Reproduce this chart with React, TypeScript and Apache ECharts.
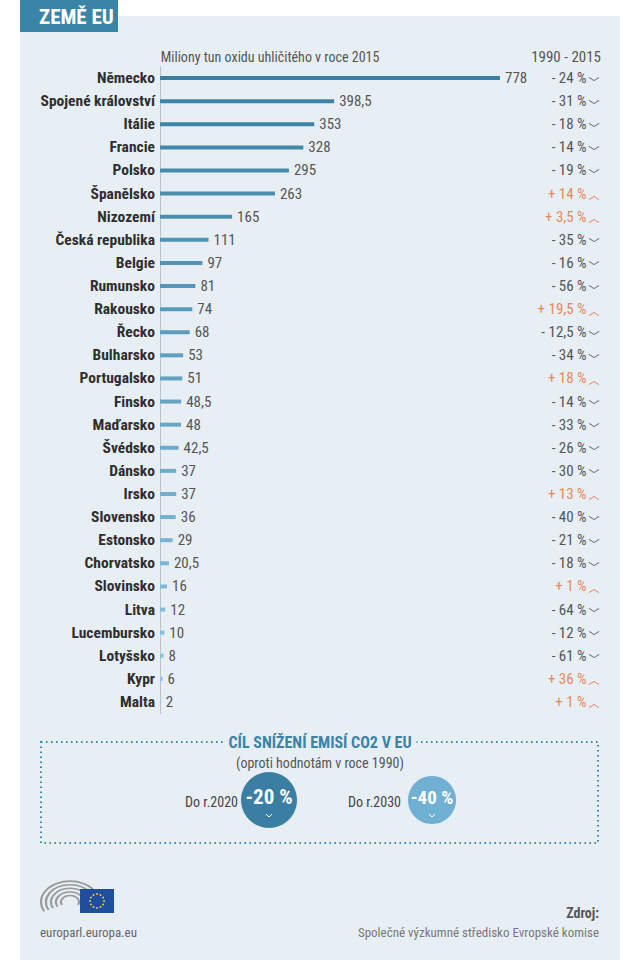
import React, { useEffect, useRef } from "react";
import * as echarts from "echarts";

const countries = [
  "Německo", "Spojené království", "Itálie", "Francie", "Polsko", "Španělsko", "Nizozemí",
  "Česká republika", "Belgie", "Rumunsko", "Rakousko", "Řecko", "Bulharsko", "Portugalsko",
  "Finsko", "Maďarsko", "Švédsko", "Dánsko", "Irsko", "Slovensko", "Estonsko", "Chorvatsko",
  "Slovinsko", "Litva", "Lucembursko", "Lotyšsko", "Kypr", "Malta",
];
const emissions2015 = [
  778, 398.5, 353, 328, 295, 263, 165, 111, 97, 81, 74, 68, 53, 51, 48.5, 48, 42.5, 37, 37, 36,
  29, 20.5, 16, 12, 10, 8, 6, 2,
];
const change1990to2015 = [
  -24, -31, -18, -14, -19, 14, 3.5, -35, -16, -56, 19.5, -12.5, -34, 18, -14, -33, -26, -30, 13,
  -40, -21, -18, 1, -64, -12, -61, 36, 1,
];
const targets = [
  { label: "Do r.2020", value: "-20 %" },
  { label: "Do r.2030", value: "-40 %" },
];

const FONT = "'Roboto Condensed','DejaVu Sans Condensed','Liberation Sans Narrow',Roboto,sans-serif";
const CHEV = "'Noto Sans CJK SC','DejaVu Sans',sans-serif";
const PANEL = "#e8eff4";
const BLUE = "#3a84a8";

const fmt = (v: number) => String(v).replace(".", ",");

function mix(a: number[], b: number[], t: number) {
  const c = a.map((x, i) => Math.round(x + (b[i] - x) * t));
  return `rgb(${c[0]},${c[1]},${c[2]})`;
}

export default function App() {
  const ref = useRef<HTMLDivElement>(null);
  useEffect(() => {
    document.body.style.margin = "0";
    const chart = echarts.init(ref.current!, undefined, { renderer: "svg" });
    const n = countries.length;
    const top = [58, 128, 163];
    const bottom = [140, 198, 226];

    const stars = [];
    for (let i = 0; i < 12; i++) {
      const a = (i / 12) * Math.PI * 2;
      stars.push({
        type: "circle",
        shape: { cx: 97 + Math.cos(a) * 7, cy: 901 + Math.sin(a) * 7, r: 0.9 },
        style: { fill: "#f5d73a" },
      });
    }
    const arcs = [9, 14, 19, 24, 29].map((r) => ({
      type: "arc",
      shape: { cx: 70, cy: 902, r, startAngle: Math.PI * 0.85, endAngle: Math.PI * 2.15 },
      scaleY: 0.72,
      originX: 70,
      originY: 902,
      style: { stroke: "#9a9a9a", lineWidth: 2.2, fill: "none" },
    }));

    const circles = [
      { cx: 269, cy: 800, r: 28, fill: "#3a7fa3", tx: 238, fs: 21 },
      { cx: 432, cy: 800, r: 24, fill: "#6fb0d3", tx: 401, fs: 19 },
    ];

    const option = {
      animation: false,
      graphic: [
        { type: "rect", shape: { x: 20, y: 16, width: 600, height: 944 }, style: { fill: PANEL }, z: -10 },
        { type: "rect", shape: { x: 20, y: 0, width: 98, height: 32 }, style: { fill: BLUE }, z: 1 },
        {
          type: "text", x: 39, y: 17, z: 2,
          style: { text: "ZEMĚ EU", fill: "#fff", font: `bold 21px ${FONT}`, verticalAlign: "middle" },
        },
        {
          type: "text", x: 270, y: 57,
          style: { text: "Miliony tun oxidu uhličitého v roce 2015", fill: "#555", font: `14px ${FONT}`, align: "center", verticalAlign: "middle" },
        },
        {
          type: "text", x: 601, y: 57,
          style: { text: "1990 - 2015", fill: "#555", font: `15px ${FONT}`, align: "right", verticalAlign: "middle" },
        },
        {
          type: "rect", shape: { x: 41, y: 742, width: 557, height: 101 },
          style: { fill: "none", stroke: BLUE, lineWidth: 2, lineDash: [1.5, 3.5] },
        },
        {
          type: "text", x: 320, y: 742,
          style: {
            text: "CÍL SNÍŽENÍ EMISÍ CO2 V EU", fill: BLUE, font: `bold 16px ${FONT}`,
            align: "center", verticalAlign: "middle", backgroundColor: PANEL, padding: [2, 5],
          },
        },
        {
          type: "text", x: 320, y: 763,
          style: { text: "(oproti hodnotám v roce 1990)", fill: "#555", font: `14px ${FONT}`, align: "center", verticalAlign: "middle" },
        },
        ...circles.flatMap((c, i) => [
          {
            type: "text", x: c.tx, y: 802,
            style: { text: targets[i].label, fill: "#444", font: `14px ${FONT}`, align: "right", verticalAlign: "middle" },
          },
          { type: "circle", shape: { cx: c.cx, cy: c.cy, r: c.r }, style: { fill: c.fill } },
          {
            type: "text", x: c.cx, y: c.cy - 3,
            style: { text: targets[i].value, fill: "#fff", font: `bold ${c.fs}px ${FONT}`, align: "center", verticalAlign: "middle" },
          },
          {
            type: "polyline",
            shape: { points: [[c.cx - 3, c.cy + 14], [c.cx, c.cy + 17], [c.cx + 3, c.cy + 14]] },
            style: { stroke: "#fff", lineWidth: 1, fill: "none" },
          },
        ]),
        ...arcs,
        { type: "rect", shape: { x: 80, y: 889, width: 34, height: 24 }, style: { fill: "#1f4e9c" } },
        ...stars,
        {
          type: "text", x: 40, y: 932,
          style: { text: "europarl.europa.eu", fill: "#666", font: `13px ${FONT}`, verticalAlign: "middle" },
        },
        {
          type: "text", x: 599, y: 913,
          style: { text: "Zdroj:", fill: "#555", font: `bold 14px ${FONT}`, align: "right", verticalAlign: "middle" },
        },
        {
          type: "text", x: 599, y: 932,
          style: { text: "Společné výzkumné středisko Evropské komise", fill: "#777", font: `13px ${FONT}`, align: "right", verticalAlign: "middle" },
        },
      ],
      grid: { left: 160, width: 349.6, top: 66.5, height: 647 },
      xAxis: {
        type: "value", min: 0, max: 800, show: false,
      },
      yAxis: [
        {
          type: "category", data: countries, inverse: true,
          axisLine: { show: true, lineStyle: { color: "#b9c3cb", width: 1 } },
          axisTick: { show: false },
          axisLabel: { color: "#2e2e2e", fontWeight: "bold", fontSize: 15.5, fontFamily: FONT, margin: 5 },
        },
        {
          type: "category", data: countries, inverse: true, position: "right", offset: 90,
          axisLine: { show: false }, axisTick: { show: false },
          axisLabel: {
            inside: true, margin: 0, fontFamily: FONT,
            formatter: (_: string, idx: number) => {
              const v = change1990to2015[idx];
              return v >= 0
                ? `{pos|+ ${fmt(v)} %}{pc|︿}`
                : `{neg|- ${fmt(-v)} %}{nc|﹀}`;
            },
            rich: {
              pos: { color: "#e8875a", fontSize: 15, fontFamily: FONT },
              neg: { color: "#555", fontSize: 15, fontFamily: FONT },
              pc: { color: "#e8875a", fontSize: 11, fontFamily: CHEV, padding: [1, 0, 0, 2] },
              nc: { color: "#555", fontSize: 11, fontFamily: CHEV, padding: [7, 0, 0, 2] },
            },
          },
        },
      ],
      series: [
        {
          type: "bar", data: emissions2015, barWidth: 4, yAxisIndex: 0,
          itemStyle: { color: (p: any) => mix(top, bottom, p.dataIndex / (n - 1)) },
          label: {
            show: true, position: "right", distance: 5, color: "#555", fontSize: 15, fontFamily: FONT,
            formatter: (p: any) => fmt(p.value),
          },
        },
      ],
    };
    chart.setOption(option as any);
    return () => chart.dispose();
  }, []);
  return <div ref={ref} style={{ position: "absolute", left: 0, top: 0, width: 640, height: 960 }} />;
}
